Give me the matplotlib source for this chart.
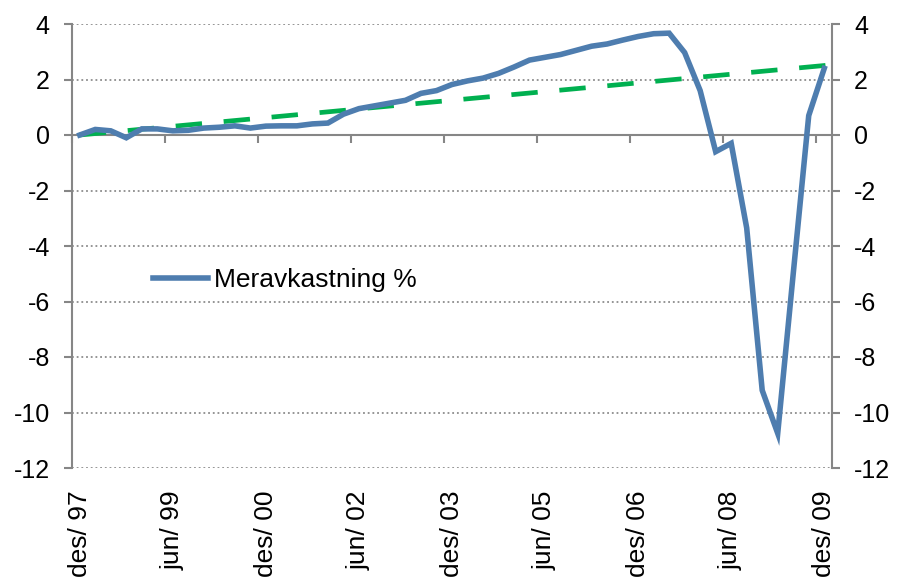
import matplotlib
matplotlib.use("Agg")
import matplotlib.pyplot as plt
from matplotlib.transforms import blended_transform_factory

plt.rcParams['font.family'] = ['Liberation Sans', 'DejaVu Sans']

# quarterly excess return, des/97 .. des/09 (49 quarters)
meravkastning = [0.0, 0.2, 0.15, -0.1, 0.22, 0.22, 0.15, 0.17, 0.25, 0.28,
                 0.33, 0.25, 0.32, 0.33, 0.33, 0.40, 0.43, 0.75, 0.95, 1.05,
                 1.15, 1.25, 1.50, 1.60, 1.82, 1.95, 2.05, 2.22, 2.45, 2.70,
                 2.80, 2.90, 3.05, 3.20, 3.28, 3.42, 3.55, 3.65, 3.67, 2.97,
                 1.60, -0.60, -0.30, -3.35, -9.20, -10.75, -5.00, 0.70, 2.40]

# straight green reference line (start / end)
trend_x = [0, 48.5]
trend_y = [0.0, 2.53]

tick_pos = [0, 6, 12, 18, 24, 30, 36, 42, 48]
tick_labels = ['des/ 97', 'jun/ 99', 'des/ 00', 'jun/ 02', 'des/ 03',
               'jun/ 05', 'des/ 06', 'jun/ 08', 'des/ 09']
yticks = [4, 2, 0, -2, -4, -6, -8, -10, -12]

axis_grey = '#868686'
fs = 18

fig = plt.figure(figsize=(8.98, 5.81), dpi=100)
ax = fig.add_axes([72 / 898, 1 - 468 / 581, 760 / 898, 444 / 581])

x = list(range(len(meravkastning)))
ax.plot(trend_x, trend_y, color='#00B050', lw=3.4, dashes=(5.6, 4.6),
        solid_capstyle='butt', zorder=3)
ax.plot(x, meravkastning, color='#4E7DAF', lw=4.0, label='Meravkastning %',
        solid_joinstyle='miter', zorder=4)

ax.set_xlim(-0.5, 48.5)
ax.set_ylim(-12, 4)

# grid
for g in yticks:
    if g != 0:
        ax.axhline(g, color='#8C8C8C', lw=1.3, linestyle=(0, (1, 1.6)), zorder=1)

# spines
ax.spines['top'].set_visible(False)
ax.spines['bottom'].set_position(('data', 0))
for s in ['bottom', 'left', 'right']:
    ax.spines[s].set_color(axis_grey)
    ax.spines[s].set_linewidth(1.5)

ax.set_yticks(yticks)
ax.set_yticklabels([str(v) for v in yticks])
ax.tick_params(axis='y', which='both', direction='out', length=6, width=1.5,
               color=axis_grey, labelsize=fs, left=True, right=True,
               labelleft=True, labelright=True, pad=10)

# category boundaries get the tick marks, labels go at the bottom
ax.set_xticks([p - 0.5 for p in tick_pos])
ax.set_xticklabels([])
ax.tick_params(axis='x', direction='out', length=6, width=1.5, color=axis_grey)

tr = blended_transform_factory(ax.transData, ax.transAxes)
for p, lab in zip(tick_pos, tick_labels):
    ax.text(p, -0.05, lab, transform=tr, rotation=90, ha='center', va='top',
            fontsize=19)

ax.legend(loc='center left', bbox_to_anchor=(0.1066, 0.4234), frameon=False,
          fontsize=19, handlelength=2.1, handletextpad=0.2, borderpad=0,
          borderaxespad=0)

plt.savefig('out.png', dpi=100)
